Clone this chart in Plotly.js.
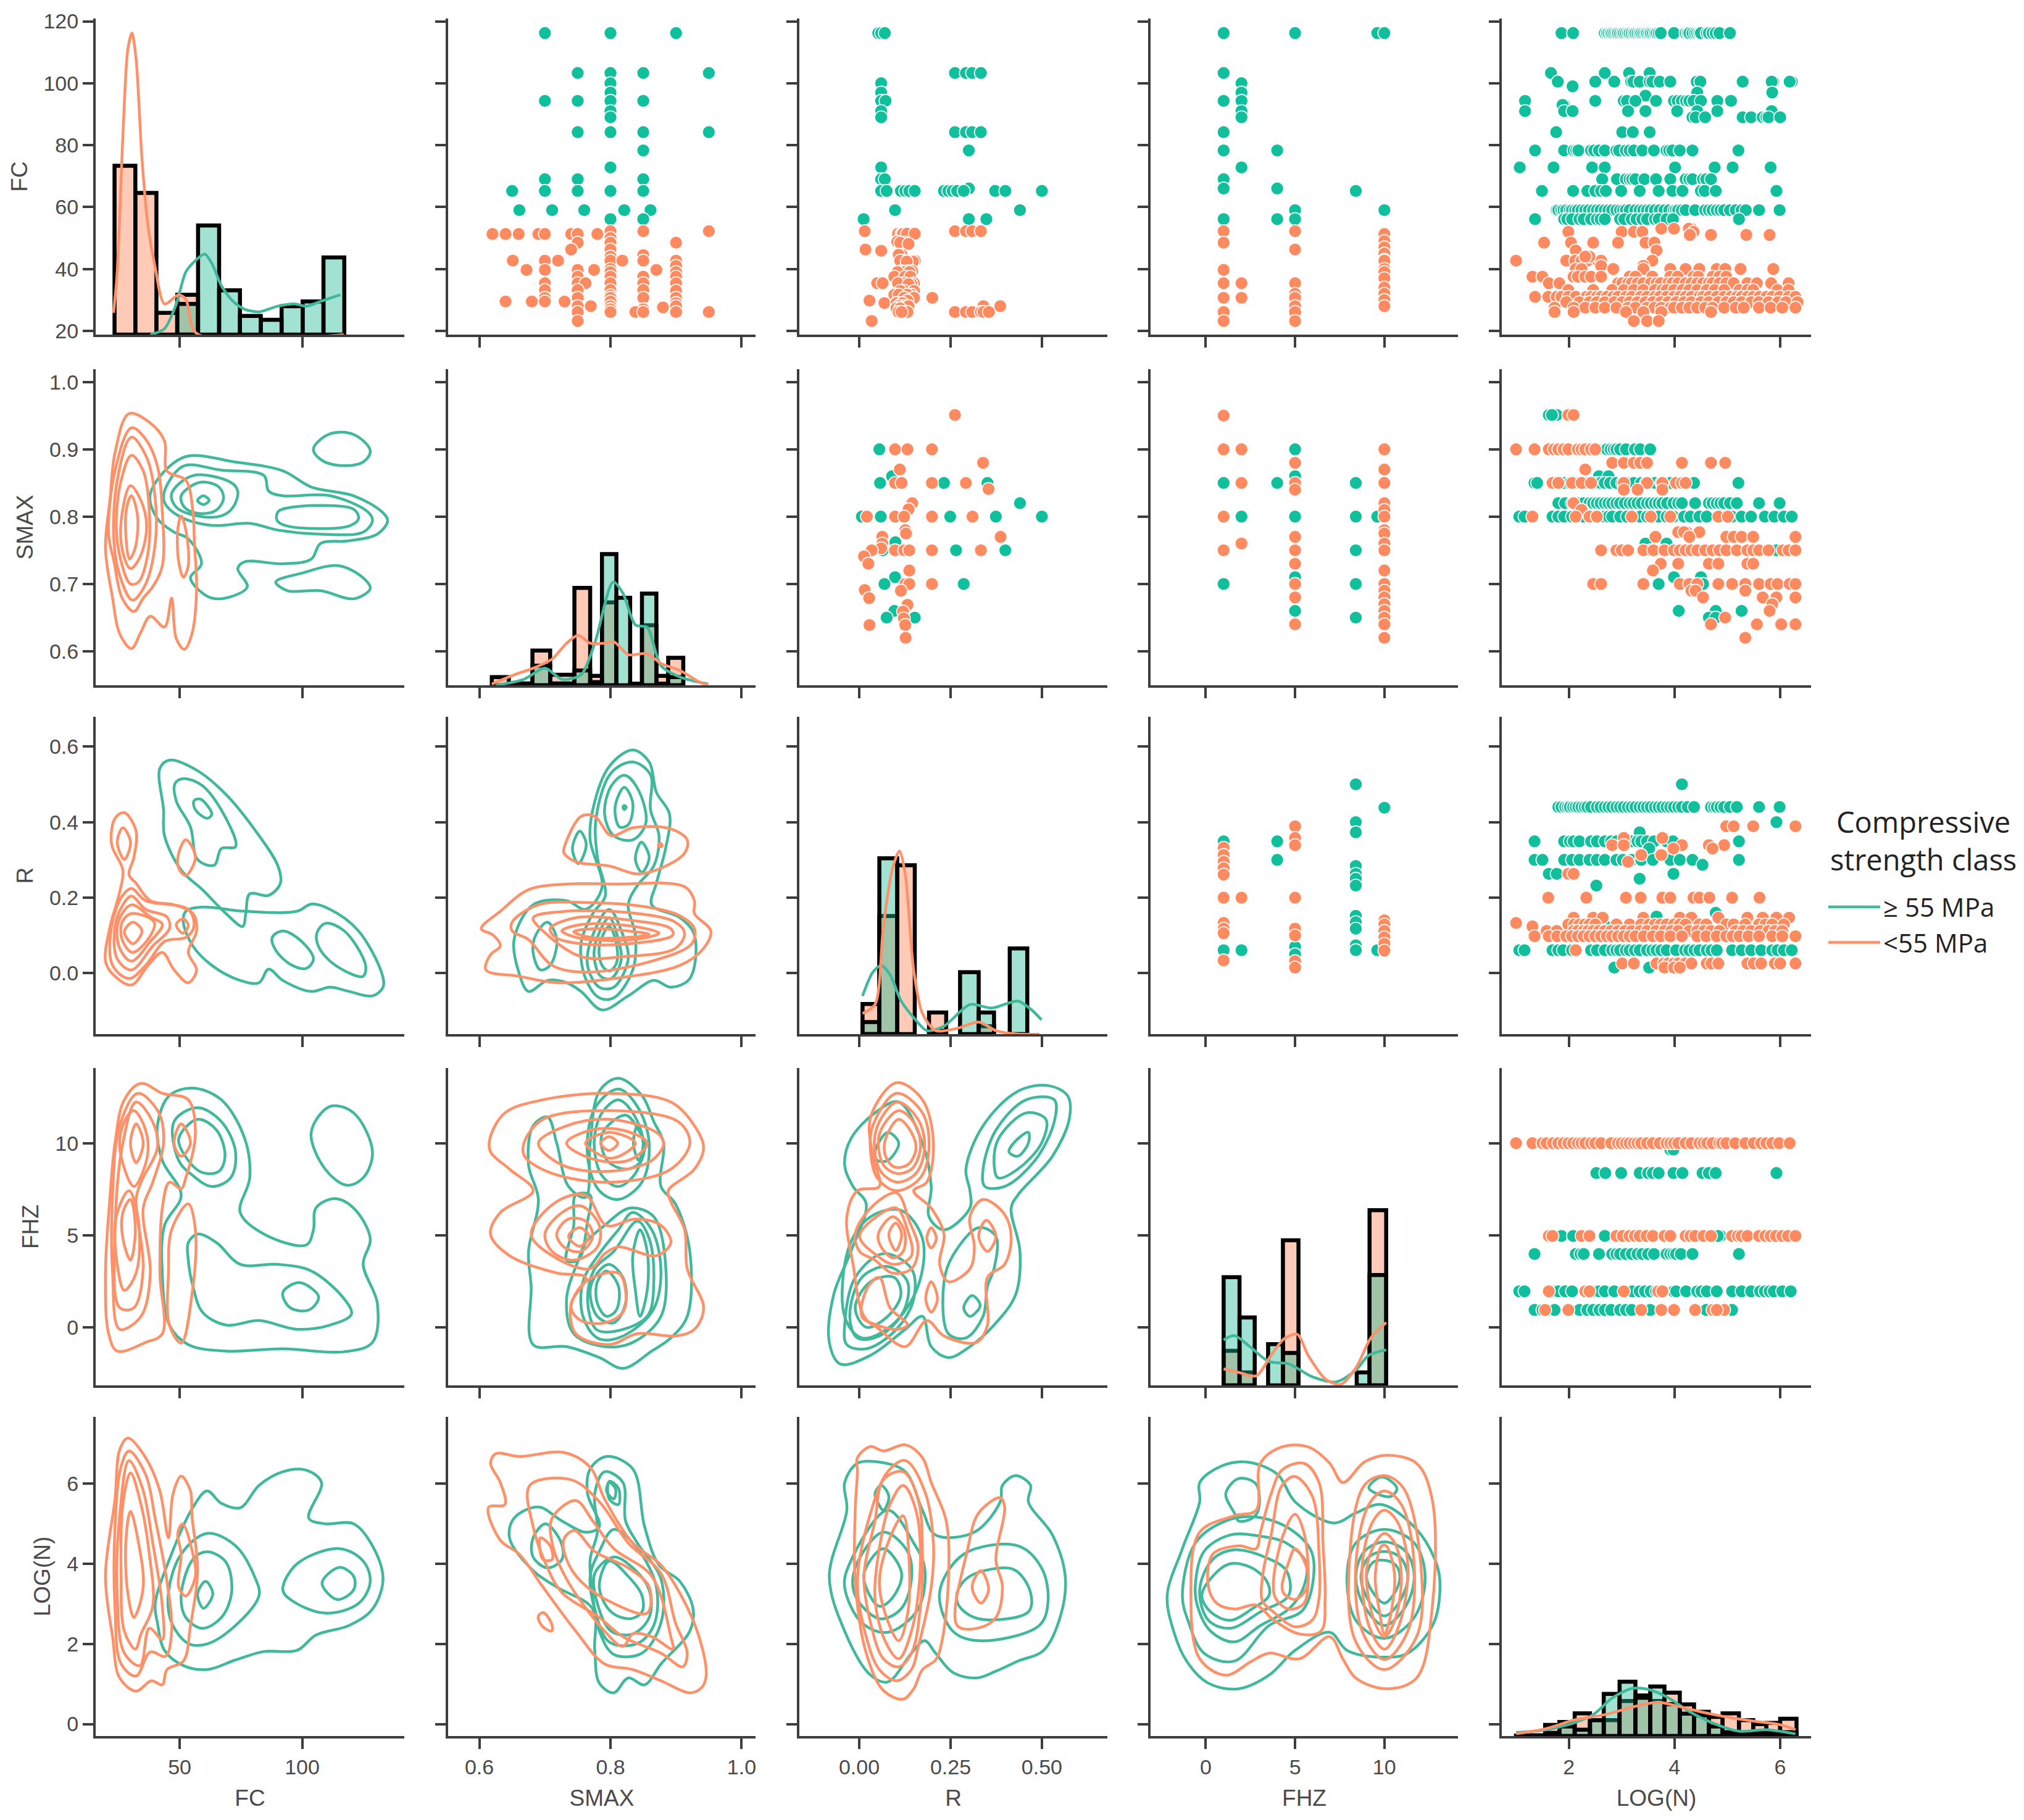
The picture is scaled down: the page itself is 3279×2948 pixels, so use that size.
<!DOCTYPE html>
<html>
<head>
<meta charset="utf-8">
<script src="https://cdn.plot.ly/plotly-3.0.1.min.js"></script>
<style>body{margin:0;background:#fff}</style>
</head>
<body>
<div id="pairplot" style="width:3279px;height:2948px"></div>
<script>
const features = ['FC', 'SMAX', 'R', 'FHZ', 'LOG(N)'];
const highName = '≥ 55 MPa';
const lowName = '&lt;55 MPa';

const xTickVals = [[50, 100], [0.6, 0.8, 1.0], [0, 0.25, 0.5], [0, 5, 10], [2, 4, 6]];
const xTickText = [['50', '100'], ['0.6', '0.8', '1.0'], ['0.00', '0.25', '0.50'], ['0', '5', '10'], ['2', '4', '6']];
const yTickVals = [[20, 40, 60, 80, 100, 120], [0.6, 0.7, 0.8, 0.9, 1.0], [0, 0.2, 0.4, 0.6], [0, 5, 10], [0, 2, 4, 6]];
const yTickText = [['20', '40', '60', '80', '100', '120'], ['0.6', '0.7', '0.8', '0.9', '1.0'], ['0.0', '0.2', '0.4', '0.6'], ['0', '5', '10'], ['0', '2', '4', '6']];
const xRanges = [[15.7, 141.7], [0.5524, 1.0212], [-0.164, 0.6793], [-3.09, 14.12], [0.73, 6.585]];
const yRanges = [[18.8, 120.9], [0.5495, 1.019], [-0.161, 0.6787], [-3.13, 14.07], [-0.30, 7.67]];

// diagonal histograms, heights as share of the panel height
const histFcEdges = [23.4, 31.9, 40.5, 49, 57.5, 66.1, 74.6, 83.1, 91.6, 100.2, 108.7, 117.2];
const histFcHigh = [0, 0, 0, .097, .345, .14, .059, .047, .09, .105, .244];
const histFcLow = [.534, .448, .069, .126, 0, 0, 0, 0, 0, 0, 0];
const histSmaxEdges = [.619, .645, .681, .708, .745, .769, .787, .809, .830, .848, .870, .888, .911];
const histSmaxHigh = [0, 0, .062, .006, .047, .010, .415, .277, .005, .290, .005, .026];
const histSmaxLow = [.026, .006, .110, .033, .308, .030, .262, 0, 0, .190, .030, .087];
const histREdges = [.009, .055, .104, .152, .191, .238, .276, .327, .369, .412, .46];
const histRHigh = [.038, .554, 0, 0, .01, 0, .195, .068, 0, .27];
const histRLow = [.095, .372, .532, 0, .068, 0, 0, .025, 0, 0];
const histFhzEdges = [1, 1.89, 2.74, 3.49, 4.32, 5.19, 8.45, 9.17, 10.1];
const histFhzHigh = [.341, .214, 0, .13, .102, 0, .041, .348];
const histFhzLow = [.109, .041, 0, 0, .457, 0, 0, .552];
const histLogEdges = [1, 1.28, 1.55, 1.82, 2.11, 2.4, 2.66, 2.96, 3.26, 3.54, 3.81, 4.1, 4.37, 4.65, 4.91, 5.22, 5.49, 5.74, 6, 6.31];
const histLogHigh = [.001, .002, .01, .03, .02, .05, .132, .17, .12, .155, .10, .07, .065, .03, .012, .01, .012, .012, .012];
const histLogLow = [.001, .002, .035, .044, .071, .05, .05, .11, .127, .11, .136, .099, .076, .06, .071, .05, .037, .041, .054];

// diagonal density curves: x, share of height, x, share of height ...
const densFcHigh = [38,0,43.8,.019,48.6,.097,52.5,.198,56.4,.234,60.2,.255,63.1,.226,67,.155,71.8,.105,76.6,.08,82.4,.072,90.1,.09,96.9,.097,101.7,.09,107.5,.105,115.6,.126];
const densFcLow = [23,.069,24.5,.198,26.8,.628,28.8,.901,30.5,.954,32.2,.871,34.6,.556,37.1,.341,40,.212,43.8,.097,49.6,.126,52.5,.112,56.9,.004,117,0];
const densSmaxHigh = [.625,0,.668,.019,.70,.054,.726,.019,.755,.033,.776,.133,.804,.327,.819,.291,.838,.191,.856,.183,.877,.062,.906,.026,.949,.004];
const densSmaxLow = [.619,.004,.653,.033,.682,.054,.711,.083,.733,.133,.751,.158,.769,.133,.791,.133,.805,.138,.827,.097,.856,.10,.877,.069,.906,.047,.935,.011,.949,0];
const densRHigh = [.009,.12,.037,.195,.060,.216,.084,.188,.114,.106,.149,.052,.185,.011,.232,.025,.303,.093,.363,.082,.434,.104,.469,.079,.499,.045];
const densRLow = [.009,.065,.043,.093,.066,.338,.090,.517,.110,.577,.126,.502,.149,.202,.173,.065,.209,.011,.268,.018,.327,.038,.374,.011,.434,0,.493,0];
const densFhzHigh = [1,.143,1.6,.157,2.45,.123,3.54,.075,4.64,.068,5.97,.027,7.3,.011,8.4,.048,9.13,.095,10.1,.112];
const densFhzLow = [1,.052,1.84,.041,2.82,.030,3.66,.095,4.39,.147,5.12,.161,5.73,.095,6.7,.020,7.55,.003,8.4,.055,9.25,.15,10.1,.198];
const densLogHigh = [1,.011,1.58,.02,2.09,.041,2.46,.067,2.82,.119,3.19,.149,3.48,.147,3.85,.123,4.29,.076,4.72,.041,5.23,.015,5.74,.02,6.29,.007];
const densLogLow = [1,.007,1.59,.024,2.09,.05,2.68,.067,3.26,.093,3.7,.106,4.07,.093,4.58,.073,5.01,.059,5.53,.046,5.96,.037,6.29,.02];

// density contours below the diagonal, every ring is x,y,x,y ...
const ringsFcSmaxHigh = [
 [38,.834,51.5,.888,72.8,.881,92.1,.868,103.7,.844,121,.831,132.6,.807,134.9,.794,130.7,.774,119.1,.764,107.5,.760,103.7,.737,92.1,.730,76.6,.733,73.7,.723,77.6,.696,70.8,.681,63.1,.679,56.4,.696,54.4,.710,58.9,.730,53.5,.767,47.7,.777,40.9,.797],
 [43.8,.838,51.5,.875,67,.869,84.4,.861,86.3,.838,92.1,.831,111.4,.831,126.8,.807,128.7,.794,124.9,.777,107.5,.774,90.1,.780,78.6,.790,63.1,.787,49.6,.801,43.8,.821],
 [46.7,.834,55.4,.861,70.8,.851,73.7,.838,71.8,.814,67,.801,57.3,.801,48.6,.814],
 [50.6,.831,58.3,.851,66,.844,67.9,.827,64.7,.809,57.3,.805,51.9,.814],
 [57.3,.824,59.7,.831,62,.824,59.7,.818],
 [90.1,.807,95.9,.814,121,.811,123,.797,119.1,.786,94,.786,89.8,.794],
 [104.6,.901,111.4,.923,121,.922,127.8,.898,124.9,.881,115.2,.876,107.5,.885],
 [89.2,.703,99.8,.716,115.2,.727,125.8,.706,127.8,.693,121,.678,107.5,.690,94,.690]];
const ringsFcSmaxLow = [
 [29.3,.953,38,.939,43.8,.912,44.8,.868,52.5,.854,55.4,.807,56,.760,56.9,.693,55,.626,51.9,.603,48.6,.619,46.7,.679,43.8,.636,38,.652,34.2,.629,30.3,.604,25.5,.626,22.6,.679,19.7,.753,21.6,.827,23.6,.895],
 [30.3,.932,36.1,.915,40.9,.875,42.9,.807,42.9,.727,39,.696,35.1,.679,31.3,.659,26.5,.679,23.2,.733,21,.774,23.6,.868],
 [30.3,.918,36.5,.888,40,.827,40,.760,36.1,.700,30.7,.676,26.1,.706,23.2,.760,24.5,.854],
 [30.3,.891,35.1,.868,37.6,.807,37.1,.747,33.2,.703,29.9,.700,26.1,.733,24.1,.787,26.1,.854],
 [29.9,.846,33.8,.827,36.5,.787,33.8,.740,29.9,.723,26.8,.747,26.1,.794],
 [30.3,.831,32.8,.801,31.8,.753,29.5,.737,28,.774,28.4,.814],
 [50.6,.801,52.5,.780,53.5,.727,51.5,.710,49.6,.733,49.2,.780]];
const ringsFcRHigh = [
 [41.9,.542,45.8,.564,57.3,.536,68.9,.473,80.5,.381,90.1,.284,91.1,.238,86.3,.206,78.6,.210,77,.158,75.7,.124,68.9,.158,59.3,.221,50.6,.273,43.8,.364,43.4,.433],
 [52.5,.164,59.3,.175,76.6,.164,97.9,.164,103.7,.183,111.4,.169,123,.112,132.6,-.002,133,-.037,128.7,-.06,119.1,-.048,111.4,-.037,103.7,-.048,92.1,-.019,86.3,.011,82.4,-.025,74.7,-.019,63.1,.021,55.4,.072,51.5,.135],
 [48.1,.502,51.5,.515,59.3,.496,68.9,.410,72.8,.335,67,.330,64.1,.286,57.3,.301,54.4,.387,48.6,.456],
 [55.8,.456,58.4,.461,63.1,.421,61.2,.410,56.4,.433],
 [87.8,.095,92.1,.112,99.8,.084,104.6,.038,101.7,.013,95.9,.021,89.2,.061],
 [106,.106,109.5,.132,117.2,.112,125.9,.021,124.9,-.008,120.1,-.002,111.4,.032,106.6,.072]];
const ringsFcRLow = [
 [27.4,.425,32.2,.376,31.3,.307,29.3,.261,32.2,.238,38,.192,47.7,.181,55.4,.158,56.9,.112,53.5,.055,56.9,.009,53.5,-.025,47.7,.009,42.9,.055,37.1,.021,30.3,-.031,22.6,-.002,19.7,.032,21.6,.124,25.5,.215,26.8,.273,22.2,.341,23.6,.410],
 [26.8,.385,29.9,.347,27.4,.301,24.5,.347],
 [30.3,.224,36.1,.192,53.5,.169,55.8,.124,52.5,.095,43.8,.084,36.1,.021,29.3,-.014,22.6,.021,22.2,.124,26.5,.204],
 [30.3,.204,36.1,.169,44.8,.149,45.8,.118,39,.072,30.3,.009,24.5,.038,23.6,.124,26.8,.181],
 [30.3,.181,38,.149,42.9,.129,38,.084,30.3,.032,25.5,.066,24.9,.135],
 [30.3,.158,39.6,.135,37.6,.095,30.7,.055,26.5,.089,26.5,.135],
 [30.9,.135,34.6,.112,30.9,.078,27.4,.110],
 [48.6,.129,51.5,.144,53.5,.126,51.2,.106],
 [49.6,.318,52.5,.353,56.4,.307,52.5,.259,49.6,.278]];
const ringsSmaxRHigh = [
 [.834,.591,.859,.559,.870,.479,.890,.421,.884,.330,.870,.238,.863,.181,.906,.147,.928,.101,.921,-.014,.892,-.037,.866,-.019,.827,-.060,.787,-.097,.755,-.048,.733,-.025,.704,-.019,.675,-.048,.661,-.002,.653,.089,.682,.181,.733,.192,.762,.169,.787,.227,.769,.353,.773,.433,.798,.547],
 [.834,.559,.861,.525,.861,.433,.874,.364,.866,.284,.841,.232,.827,.181,.838,.101,.834,.009,.805,-.065,.783,-.065,.762,-.014,.755,.078,.773,.158,.792,.204,.780,.307,.778,.410,.801,.530],
 [.821,.524,.841,.490,.854,.398,.834,.353,.805,.364,.791,.421,.801,.495],
 [.821,.492,.834,.450,.827,.393,.814,.387,.807,.439],
 [.819,.439,.821,.444,.824,.439,.821,.433],
 [.847,.347,.859,.307,.848,.267,.838,.301],
 [.753,.376,.763,.341,.751,.290,.742,.330],
 [.798,.169,.819,.101,.827,.037,.805,-.037,.783,-.037,.765,.021,.773,.101],
 [.798,.147,.812,.089,.816,.032,.801,-.014,.785,-.008,.775,.044,.780,.095],
 [.798,.124,.809,.078,.809,.026,.798,.006,.787,.021,.783,.072],
 [.704,.135,.718,.089,.708,.021,.693,.009,.682,.055,.686,.101]];
const ringsSmaxRLow = [
 [.729,.330,.755,.415,.776,.415,.801,.364,.834,.385,.892,.382,.917,.353,.913,.318,.877,.278,.841,.263,.798,.284,.747,.295,.729,.318],
 [.873,.339,.876,.344,.879,.339,.876,.334],
 [.603,.118,.632,.164,.675,.221,.733,.236,.805,.236,.913,.229,.928,.192,.928,.158,.953,.112,.942,.066,.906,.021,.805,-.014,.718,-.025,.661,-.008,.610,.009,.617,.049,.632,.072,.621,.101],
 [.650,.135,.690,.181,.769,.187,.856,.175,.906,.152,.928,.118,.924,.078,.863,.032,.762,.003,.711,.021,.675,.089,.650,.112],
 [.682,.147,.733,.164,.841,.158,.899,.135,.913,.106,.899,.066,.819,.044,.755,.044,.697,.112],
 [.708,.118,.747,.147,.827,.141,.892,.118,.895,.101,.827,.078,.755,.078,.716,.095],
 [.726,.112,.755,.129,.827,.126,.874,.106,.834,.089,.755,.092],
 [.744,.110,.776,.118,.827,.112,.859,.103,.827,.095,.769,.095]];
const ringsFcFhzHigh = [
 [40.9,10.94,45.8,12.58,55.4,12.98,67,12.35,76.6,10.23,78.6,8.12,74.7,6.24,84.4,5.07,101.7,4.48,104.6,5.30,105.6,6.48,113.3,6.99,121,6.48,127.8,4.83,124.9,3.43,130.7,1.31,128.7,-.80,117.2,-1.31,92.1,-1.15,68.9,-1.27,53.5,-.92,45.8,.14,42.9,2.96,43.8,5.54,50.6,7.18,42.9,9.06],
 [47.7,11.17,57.3,11.92,67,11.17,72.8,9.53,70.8,8.12,63.1,7.65,55.4,8.24,49.6,9.06],
 [49.6,10.23,57.3,11.29,65.1,10.70,68.5,9.29,66,8.47,59.3,8.40,53.5,9.06],
 [103.7,10.58,111.4,11.99,121,11.64,128.7,9.53,124.9,8.12,118.1,7.72,109.4,8.59],
 [53.5,4.60,57.3,5.07,65.1,4.60,74.7,3.43,90.1,3.43,103.7,3.07,117.2,1.55,120.1,.73,111.4,.14,97.9,-.09,82.4,.38,68.9,.14,59.3,.84,55.4,2.25,53.5,3.66],
 [92.1,1.9,98.9,2.44,106.7,1.67,102.8,.96,95.1,1.08]];
const ringsFcFhzLow = [
 [34.2,13.24,42.9,12.7,53.5,12.35,56.4,10.47,52.5,8.12,50.6,7.53,45.8,7.88,42.9,6.48,41.9,2.96,42.9,-.33,36.1,-.80,24.5,-1.27,21,-.33,19.7,2.96,21.6,7.18,23.6,10,27.4,12.35],
 [32.9,12.7,41.5,11.64,43.4,10,39,7.88,35.1,6.48,38,2.96,34.2,.61,25.5,-.09,22.6,2.96,22.6,7.18,25.5,10.94],
 [32.2,12.23,38.9,11.17,40.9,9.76,34.2,7.88,32.2,6.95,35.1,3.19,31.3,1.08,25.5,1.08,23.6,5.3,26.8,10],
 [31.3,11.76,36.1,10.7,36.8,9.29,31.3,7.65,25.5,9.76,27.4,11.17],
 [32.2,11.05,35.1,10,32.2,8.94,29.9,10],
 [29.3,7.42,33.2,5.77,32.2,2.96,27.4,2.02,24.5,3.43,24.1,6.01],
 [29.9,6.95,31.9,5.3,29.9,3.66,26.8,4.83,26.8,6.24],
 [47.7,10,50.6,11.05,54.4,10,50.6,9.29],
 [46.7,5.3,53.5,6.71,56.4,5.3,55,1.78,50.6,-.84,45.8,.14,45.4,2.96]];
const ringsSmaxFhzHigh = [
 [.812,13.52,.848,12.58,.866,11.17,.881,10,.877,7.65,.899,6.71,.921,4.13,.917,.61,.892,-.56,.863,-1.27,.819,-2.21,.783,-1.62,.733,-1.03,.682,-.92,.679,2.25,.675,4.13,.690,6.95,.675,8.82,.682,10.94,.704,11.41,.718,10,.736,7.65,.762,7.06,.769,10,.783,12.81],
 [.812,12.93,.841,11.99,.859,10,.848,7.89,.812,6.95,.783,7.42,.765,9.29,.776,11.88],
 [.812,12.35,.834,11.64,.850,10,.838,8.36,.812,7.65,.787,8.24,.775,10,.787,11.64],
 [.823,11.52,.845,10.58,.852,10,.845,8.94,.823,8.59,.795,9.06,.787,10.47],
 [.841,10.94,.850,10,.843,9.06,.835,10],
 [.830,6.48,.866,6.01,.884,3.43,.877,.61,.834,-.8,.791,-1.03,.744,-.33,.733,1.55,.751,3.66,.762,4.6,.791,5.54],
 [.834,6.24,.863,5.3,.877,2.96,.863,.84,.812,-.56,.780,-.56,.758,.61,.758,2.49,.783,4.01,.812,5.3],
 [.841,5.77,.859,4.83,.866,2.49,.856,.61,.805,-.21,.778,-.09,.765,1.55,.776,3.19,.805,4.13],
 [.845,5.3,.856,4.13,.856,2.02,.845,.61,.838,2.02,.834,3.9],
 [.798,3.43,.819,2.72,.823,1.31,.805,.26,.780,.61,.769,2.02,.780,2.96],
 [.794,3.07,.812,2.25,.809,.96,.794,.61,.780,1.31,.780,2.49],
 [.747,7.18,.769,7.18,.765,5.77,.751,3.66,.733,3.66,.744,5.54]];
const ringsSmaxFhzLow = [
 [.616,10.23,.639,11.64,.697,12.35,.798,12.7,.892,12.23,.928,10.94,.942,9.76,.928,8.59,.888,7.42,.892,6.83,.913,5.3,.917,3.19,.942,1.08,.928,-.09,.899,-.45,.841,-.33,.798,-.92,.747,-.33,.740,1.31,.762,2.72,.718,2.96,.646,3.9,.617,5.07,.632,6.24,.682,7.42,.646,8.59,.617,9.53],
 [.668,10,.697,11.29,.798,11.76,.903,11.17,.921,10,.892,8.59,.805,7.89,.711,8.36,.669,9.29],
 [.690,10,.733,10.94,.798,11.29,.870,10.58,.881,10,.863,9.06,.798,8.47,.726,8.82],
 [.733,10,.769,10.7,.819,10.7,.856,10,.827,9.06,.769,9.18],
 [.762,10,.798,10.58,.838,10,.801,9.18],
 [.785,10,.798,10.35,.811,10,.798,9.6],
 [.679,5.07,.718,6.83,.762,7.18,.794,5.54,.838,5.89,.877,5.54,.892,4.6,.870,3.9,.812,4.37,.791,4,.769,3.19,.711,3.9],
 [.700,5.07,.726,6.24,.755,6.6,.783,5.54,.780,4.37,.744,3.66,.711,4.13],
 [.718,5.07,.736,5.89,.762,5.77,.773,4.95,.755,4.13,.729,4.37],
 [.736,4.95,.753,5.42,.767,4.95,.753,4.41],
 [.740,1.08,.762,2.49,.812,2.96,.823,2.02,.819,.84,.791,.26,.755,.38]];
const ringsRFhzHigh = [
 [.292,8.59,.339,10.94,.434,12.81,.517,13.12,.570,12.58,.576,11.41,.529,9.29,.434,7.18,.416,6.48,.440,4.13,.428,1.78,.369,.14,.303,-1.03,.244,-1.62,.197,-1.03,.173,.61,.126,-.09,.031,-1.5,-.052,-1.97,-.082,-.8,-.070,1.78,-.023,4.13,.019,6.71,-.017,7.65,-.040,8.82,-.023,10.23,.043,11.64,.108,12.23,.173,10,.197,7.65,.191,6.01,.232,5.30,.303,6.48,.303,7.42],
 [.339,8.59,.374,10.7,.457,12.35,.534,12.35,.534,11.17,.481,9.06,.398,7.65,.344,7.65],
 [.369,8.94,.381,10.23,.457,11.64,.511,11.29,.499,10,.434,8.59,.380,8.12],
 [.410,9.53,.434,10.23,.463,10.58,.463,10,.434,9.29],
 [-.040,.14,-.011,2.72,.066,4.01,.143,3.19,.149,1.55,.102,-.09,.019,-1.15,-.034,-.92],
 [-.026,.61,.007,2.72,.078,3.31,.132,2.49,.120,.84,.055,-.45,-.005,-.56],
 [-.011,1.08,.031,2.49,.096,2.72,.114,1.78,.078,.61,.019,.02],
 [-.028,4.37,.031,6.01,.114,6.36,.173,4.83,.161,2.25,.090,.14,.007,-.56,-.040,.61],
 [.232,2.49,.256,3.9,.327,5.42,.374,4.95,.369,3.19,.351,2.25,.339,.61,.292,-.56,.244,-.33],
 [.286,1.08,.309,1.74,.331,1.2,.303,.61],
 [.043,9.53,.078,10.58,.108,10,.078,9.06,.050,9.06]];
const ringsRFhzLow = [
 [.031,11.41,.102,13.28,.173,12.35,.203,10,.185,7.89,.149,7.42,.197,6.48,.232,5.07,.220,3.43,.244,2.49,.303,3.19,.315,4.37,.303,6.01,.339,6.95,.398,6.13,.416,4.83,.398,3.43,.351,2.72,.351,.14,.321,-.8,.232,-.45,.185,.38,.126,-1.03,.055,-.09,.013,.61,-.017,3.43,-.034,6.01,-.005,7.42,.055,7.65,.037,9.29],
 [.037,10.94,.102,12.7,.173,11.64,.191,9.76,.167,8.12,.102,7.42,.049,8.12,.031,9.53],
 [.046,10.7,.104,12.23,.161,11.29,.179,9.76,.155,8.36,.102,7.89,.055,8.59],
 [.055,10.47,.108,11.76,.155,10.94,.167,9.64,.143,8.59,.102,8.36,.066,8.82],
 [.072,10.23,.108,11.29,.143,10.58,.155,9.64,.132,8.82,.096,8.71,.072,9.29],
 [-.011,5.07,.031,6.48,.102,7.3,.137,5.77,.161,4.37,.143,3.19,.090,2.96,.043,3.66,.001,4.13],
 [.001,4.95,.055,6.13,.102,6.48,.132,5.3,.143,3.9,.096,3.43,.049,3.9],
 [.052,5.07,.092,6.01,.123,5.3,.120,4.13,.092,3.78,.060,4.37],
 [.081,5.07,.100,5.66,.116,5.07,.100,4.18],
 [.007,.61,.025,2.25,.055,2.72,.084,1.08,.132,.14,.102,-.09,.049,.14],
 [.185,4.83,.197,5.42,.211,4.83,.197,4.32],
 [.182,1.55,.197,2.49,.214,1.55,.197,.84],
 [.327,4.95,.348,5.82,.374,4.95,.351,4.13]];
const ringsFcLogHigh = [
 [40,3.01,45.8,4.11,55.4,5.41,61.2,5.82,67,5.51,74.7,5.4,82.4,5.96,92.1,6.3,101.7,6.34,107.9,6.03,102.7,5.14,109.4,5,121,5,128.7,4.45,133,3.62,128.7,2.87,119.1,2.46,105.6,2.22,97.9,1.84,84.4,1.81,72.8,1.6,61.2,1.36,51.5,1.46,43.8,1.84,40.9,2.53],
 [45.4,3.28,50.6,4.24,61.2,4.76,72.8,4.45,80.5,3.69,82.4,3.21,72.8,2.46,61.2,2,53.5,2.01,46.7,2.53],
 [50.6,3.21,55.4,4.11,61.2,4.3,68.9,4.04,71.2,3.28,67,2.66,59.3,2.39,52.5,2.66],
 [57.3,3.25,60.6,3.56,63.5,3.25,59.7,2.89],
 [92.1,3.35,97.9,4,115.2,4.38,124.9,4.07,127.8,3.56,123,3.01,109.4,2.77,95.9,3.08],
 [108.1,3.52,115.2,3.91,121,3.69,121,3.35,114.3,3.11]];
const ringsFcLogLow = [
 [28.8,7.14,36.1,6.65,41.9,5.82,45.4,4.65,47.3,5.75,50.6,6.19,54.4,5.82,55,5.2,57.3,3.83,54.4,2.46,51.5,1.57,44.8,1.36,42.9,.98,38.4,1.08,32.2,.82,25.5,1.15,22.6,2.18,19.7,3.69,23.6,5.62,25.5,6.85],
 [29.3,6.82,36.1,6.23,40,5.13,44.8,3.56,46.7,2.32,44.2,1.69,38,1.8,32.2,1.2,26.1,1.5,23.6,2.87,23.6,4.93,26.1,6.44],
 [29.3,6.58,34.8,5.89,39,4.52,42.9,2.94,42.9,2.11,37.6,2.39,33.8,1.46,27.4,1.77,24.5,3.21,25.5,5.2],
 [29.9,6.27,34.2,5.48,37.6,4.24,39,2.94,34.2,2.25,31.9,1.87,27.4,2.32,26.1,3.69,26.8,5.48],
 [29.9,5.31,33.2,4.52,35.1,3.42,31.3,2.66,28.8,3.28,28,4.52],
 [51.2,5,55.4,4.24,56.4,3.69,52.5,3.2,49.6,3.42,50.6,4.24,49.2,4.76]];
const ringsSmaxLogHigh = [
 [.769,6.37,.794,6.68,.834,6.37,.852,4.93,.874,3.97,.906,3.56,.926,2.87,.921,2.32,.877,1.5,.852,.98,.827,1.15,.805,.78,.783,1.02,.776,1.84,.773,2.87,.718,3.42,.682,3.83,.646,4.65,.653,5.14,.690,5.42,.726,5.07,.762,4.79,.783,4.93,.765,5.75],
 [.791,6.3,.819,6.03,.823,5.07,.841,4.52,.877,3.62,.877,2.53,.848,1.77,.805,1.74,.783,2.32,.773,3.21,.769,4.11,.780,4.79,.776,5.75],
 [.798,6.06,.812,5.89,.812,5.48,.798,5.62],
 [.798,6.03,.808,5.86,.805,5.62,.794,5.82],
 [.805,4.86,.841,4.38,.87,3.42,.866,2.46,.841,2.01,.798,2.05,.776,2.87,.769,3.69,.783,4.31],
 [.805,4.17,.834,3.9,.859,3.35,.859,2.66,.834,2.25,.801,2.32,.780,3.01,.776,3.76],
 [.798,4.07,.827,3.69,.848,3.21,.848,2.8,.830,2.63,.801,2.8,.783,3.42],
 [.682,4.65,.701,5,.725,4.52,.726,4.11,.704,3.9,.682,4.17]];
const ringsSmaxLogLow = [
 [.617,6.51,.625,6.75,.661,6.68,.729,6.78,.769,6.41,.791,5.62,.834,4.52,.877,3.97,.91,3.14,.935,2.18,.946,1.22,.939,.91,.921,.78,.877,1.08,.834,1.36,.791,1.5,.747,2.32,.697,3.42,.661,4.24,.632,4.59,.614,5.41,.639,5.48,.632,6.03],
 [.677,5.96,.74,6.1,.783,5.55,.827,4.52,.877,3.76,.899,2.53,.917,1.77,.910,1.43,.877,1.77,.819,2.18,.783,2.66,.726,3.28,.704,3.9,.682,4.93],
 [.711,5.14,.747,5.58,.773,5.07,.805,4.38,.863,3.69,.892,2.18,.895,1.87,.863,2.18,.834,2.25,.819,1.94,.791,2.32,.733,3.62,.711,4.52],
 [.729,4.62,.745,4.83,.776,4.31,.827,3.9,.859,3.42,.856,2.77,.805,3.01,.755,3.56,.733,4.11],
 [.690,2.7,.698,2.78,.711,2.46,.71,2.32,.695,2.46],
 [.693,4.65,.708,4.45,.711,4.11,.697,4.11]];
const ringsRLogHigh = [
 [-.04,6.03,-.005,6.51,.055,6.54,.126,6.3,.173,5.34,.209,4.72,.315,4.79,.386,5.55,.392,5.96,.428,6.2,.469,5.96,.463,5.55,.529,4.72,.564,3.69,.552,2.73,.505,1.84,.434,1.57,.374,1.32,.321,1.15,.256,1.29,.209,1.77,.179,2.08,.143,1.77,.078,1.05,.031,1.22,-.04,2.32,-.082,3.69,-.034,5.34],
 [-.028,3.97,.078,5.34,.149,4.52,.179,3.9,.161,2.87,.078,2.29,.007,2.53,-.04,3.42],
 [-.011,3.9,.066,4.79,.132,4.31,.143,3.62,.114,2.87,.055,2.63,-.011,3.21],
 [.013,3.76,.066,4.38,.116,3.76,.090,3.14,.055,2.94,.025,3.28],
 [.043,5.75,.060,5.96,.081,5.68,.066,5.34,.052,5.51],
 [.22,3.28,.286,4.24,.434,4.45,.499,3.9,.517,3.08,.493,2.46,.327,2.08,.256,2.32],
 [.268,3.28,.303,3.69,.422,3.86,.469,3.28,.463,2.8,.327,2.63,.274,2.94]];
const ringsRLogLow = [
 [-.005,6.65,.031,6.93,.066,6.82,.126,6.97,.173,6.65,.197,6.03,.238,5.07,.244,3.56,.226,2.05,.209,1.6,.173,1.36,.149,.88,.12,.62,.066,.84,.019,1.77,-.011,3.56,-.011,5.34,-.005,6.3],
 [.078,6.3,.126,6.58,.179,5.82,.203,4.52,.197,3.42,.161,1.91,.143,1.36,.102,1.08,.055,1.36,.019,2.18,-.005,3.56,.031,5.27],
 [.066,6.1,.12,6.3,.161,5.62,.173,4.24,.167,2.87,.143,1.77,.108,1.43,.066,1.63,.031,2.53,.013,3.69,.043,5.07],
 [.084,5.48,.12,5.96,.155,5.34,.167,3.9,.143,2.32,.108,1.63,.072,2.05,.043,3.14,.060,4.65],
 [.084,4.65,.12,5.2,.137,3.97,.132,2.73,.108,2.08,.072,2.73,.055,3.56],
 [.268,2.46,.297,4.38,.327,5.27,.386,5.65,.398,5.41,.374,4.11,.392,3.42,.374,2.66,.327,2.4],
 [.309,3.42,.333,3.83,.354,3.35,.333,3.02]];
const ringsFhzLogHigh = [
 [-2.16,3.21,-1.31,4.38,-.34,5.55,-.34,6.03,.87,6.44,2.33,6.54,4.03,6.23,5,5.55,7.18,5.02,8.4,5.27,9.85,5.48,11.8,4.86,12.77,4.17,13.1,3.62,12.77,2.53,11.31,1.77,9.85,1.67,7.91,1.84,6.94,2.29,5,1.84,3.54,1.22,1.84,.88,.15,1.02,-1.07,1.57,-1.8,2.32],
 [-1.31,3.21,-.58,4.52,1.12,5.07,2.82,5.17,4.76,4.86,5.97,4.24,5.48,2.87,3.54,2.46,1.6,1.57,-.1,1.77,-.95,2.53],
 [1.12,5.75,1.84,6.13,2.82,5.99,2.94,5.34,2.57,5.13,1.84,5.07,1.6,5.27],
 [-.58,3.49,-.1,4.31,1.36,4.72,3.06,4.69,4.51,4.52,5.6,4.04,5.48,3.42,4.64,2.87,3.06,2.46,1.6,2.05,.27,2.32,-.46,2.94],
 [-.34,3.35,.39,4.11,1.6,4.35,3.3,4.17,4.51,3.83,4.64,3.21,3.06,2.8,1.36,2.39,.15,2.59],
 [-.22,3.21,.39,3.69,1.36,4,2.57,3.9,3.42,3.56,3.54,3.21,2.57,2.87,1.36,2.59,.27,2.8],
 [7.91,3.69,8.4,4.52,10,4.86,11.67,4.52,12.28,3.69,11.67,2.66,10,2.14,8.4,2.59],
 [8.4,3.69,8.88,4.31,10,4.55,11.19,4.31,11.67,3.69,11.19,2.94,10,2.46,8.88,2.94],
 [8.69,3.69,9.13,4.17,10,4.31,10.87,4.17,11.31,3.69,10.87,3.07,10,2.7,9.13,3.07],
 [9,3.69,9.37,4.04,10,4.09,10.63,3.97,10.87,3.69,10.58,3.28,10,3.02,9.37,3.28],
 [9.13,5.89,9.85,6.17,10.7,5.89,10.34,5.68]];
const ringsFhzLogLow = [
 [-.83,3.21,-.34,4.79,1.6,5.2,2.82,5.34,3.06,6.51,4.27,6.92,5.73,6.92,6.94,6.51,7.67,6.03,8.88,6.54,10.1,6.71,11.8,6.51,12.67,5.62,12.67,2.87,11.8,1.15,10.1,.88,8.4,1.15,7.67,1.63,6.94,2.18,5.24,1.63,3.54,1.77,2.57,1.57,1.12,1.22,-.34,1.63],
 [.15,3.42,.39,4.24,1.84,4.45,2.82,4.38,3.06,4.79,3.66,5.75,4.27,6.34,5.49,6.51,6.34,6.03,6.56,4.52,6.68,3.14,6.45,2.32,5.24,2.25,3.79,2.6,2.82,2.97,1.6,2.87,.63,3.01],
 [3.18,3.69,3.66,4.72,4.27,5.96,5,6.18,5.97,5.68,6.34,4.24,6.34,3.14,5.97,2.6,5,2.43,3.79,2.8,3.18,3.07],
 [3.79,3.56,4.39,4.79,5,5.24,5.49,4.79,5.73,3.69,5.49,3.01,4.64,2.87,3.91,3.14],
 [4.27,3.42,4.64,4.04,5,4.38,5.6,3.97,5.68,3.42,5,3.11,4.39,3.25],
 [8.03,3.97,8.88,5.96,10,6.2,11.07,5.89,12.04,3.97,11.8,2.18,10,1.36,8.4,2.05],
 [8.4,3.97,9.13,5.48,10,5.82,10.95,5.48,11.67,3.97,11.31,2.32,10,1.61,8.76,2.32],
 [8.76,3.97,9.37,5.07,10,5.34,10.7,5.07,11.31,3.97,10.82,2.46,10,1.87,9.13,2.46],
 [9,3.83,9.49,4.52,10,4.76,10.58,4.52,10.95,3.69,10.58,2.59,10,2.18,9.42,2.59],
 [9.49,3.69,9.85,4.45,10.1,4.45,10.46,4.04,10.58,3.56,10.24,2.5,10,2.25,9.73,2.8]];

// scatter points above the diagonal, grouped as [y, [x, x, ...]]
const ptsSmaxFcHigh = [[116.2,[.70,.80,.90]],[103.3,[.75,.80,.85,.95]],[100,[.80]],[97,[.80]],[94.3,[.70,.75,.80,.85]],[91,[.80]],[89,[.80]],[84.2,[.75,.80,.85,.95]],[78.3,[.85]],[72.8,[.80]],[69,[.70,.75,.85]],[65.2,[.65,.70,.75,.80,.85]],[59,[.661,.711,.76,.821,.861]],[56.1,[.80,.85]]];
const ptsSmaxFcLow = [[52.2,[.80,.85,.95]],[51.3,[.62,.64,.66,.69,.70,.74,.75,.78]],[50,[.80]],[48.5,[.75,.80,.90]],[46.3,[.74,.80]],[44.5,[.85]],[44,[.80]],[42.7,[.651,.70,.72,.80,.818,.85,.90]],[41,[.90]],[40,[.80]],[39.7,[.672,.70,.75,.775,.87]],[39,[.80,.90]],[37.5,[.75,.80,.85,.90]],[35.4,[.70,.75,.762,.80,.85,.90]],[33.2,[.70,.75,.80,.85]],[33,[.90]],[31.5,[.80]],[30.7,[.70,.75,.80,.85,.90]],[29.5,[.64,.68,.70,.73,.80]],[29,[.90]],[28,[.75,.77,.80,.90]],[27.6,[.88]],[27,[.80,.85]],[26.1,[.75,.80,.838,.85,.90,.95]],[23.2,[.75]]];
const ptsRFcHigh = [[116.2,[.052,.06,.07]],[103.3,[.262,.292,.309,.333]],[100,[.06]],[97,[.06]],[94.3,[.06,.072]],[91,[.06]],[89,[.06]],[84.2,[.262,.292,.309,.333]],[78.3,[.30]],[72.8,[.06]],[69,[.06,.07]],[66,[.30]],[65.2,[.06,.075,.114,.126,.137,.152,.232,.244,.256,.268,.286,.372,.40,.50]],[59,[.098,.44]],[56.1,[.012,.30,.348]]];
const ptsRFcLow = [[52.2,[.262,.292,.309,.333,.015]],[51.4,[.106,.116,.122,.143,.12,.131,.152]],[48.8,[.104]],[48.5,[.123,.112]],[48.1,[.135]],[46.3,[.017]],[45.9,[.06]],[44.6,[.116,.108]],[42.7,[.12,.112,.152]],[42.4,[.147,.13]],[39.3,[.132,.114,.145]],[39,[.12,.138,.105]],[37.5,[.096,.125,.14]],[35.4,[.123,.049,.064,.106,.15]],[35.1,[.143,.135]],[32.9,[.123,.112,.15]],[31.7,[.096,.143,.132,.108]],[30.7,[.2,.123,.15]],[29.8,[.028,.132]],[29,[.069,.102,.118]],[28,[.12,.340,.386,.108,.135]],[27.3,[.102,.112]],[26.1,[.123,.132,.262,.292,.309,.333,.34,.355,.108,.116]],[23.2,[.034]]];
const ptsFhzFcHigh = [[116.2,[1,5,9.6,10]],[103.3,[1]],[100,[2]],[97,[2]],[94.3,[1,2]],[91,[2]],[89,[2]],[84.2,[1]],[78.3,[1,4]],[72.8,[2]],[69,[1]],[66,[1,4]],[65.2,[8.4]],[59,[5,10]],[56.1,[1,4,5]]];
const ptsFhzFcLow = [[52.2,[1,5]],[51.3,[10]],[49,[10]],[48.5,[1]],[47,[10]],[46.3,[5]],[45,[10]],[43,[10]],[42.7,[10]],[40,[10]],[39.7,[1]],[39,[10]],[37,[10]],[35.4,[1,2,5]],[34,[10]],[32,[5,10]],[30.7,[1,2,5]],[30,[10]],[28,[5,10]],[26.1,[1,5]],[23.2,[1,5]]];
const ptsLogFcHigh = [
 [116.2,[1.86,2.08,2.68,2.72,2.75,2.79,2.82,2.86,2.90,2.93,2.97,3.01,3.04,3.08,3.12,3.15,3.19,3.23,3.26,3.30,3.34,3.37,3.41,3.45,3.48,3.52,3.55,3.59,3.63,3.66,3.70,3.74,3.99,4.21,4.25,4.28,4.34,4.39,4.43,4.47,4.50,4.61,4.65,4.72,4.78,4.85,5.05]],
 [103.3,[1.66,2.68,3.14,3.53]],
 [100.5,[1.79,2.50,2.86,3.18,3.22,3.34,3.53,3.58,3.72,3.92,4.42,4.49,5.29,5.87,5.84,6.22,6.18]],
 [99,[2.07]],[96,[3.45]],[97,[4.43,5.85]],
 [94.3,[1.17,2.50,3.04,3.10,3.26,3.65,3.99,4.06,4.14,4.22,4.28,4.36,4.50,4.81,5.07]],[93,[1.91,1.88]],
 [91,[1.17,1.91,2.07,3.12,3.45,4.05,4.43,4.81,5.84]],
 [89,[4.34,4.40,4.58,5.29,5.45,5.67,5.74,5.78,6.00]],
 [84.2,[1.76,3.01,3.21,3.53]],
 [78.3,[1.36,1.91,2.09,2.14,2.18,2.42,2.48,2.57,2.68,2.90,2.95,3.08,3.15,3.23,3.39,3.61,3.85,3.90,3.96,4.10,4.34,5.21]],
 [72.8,[1.07,1.71,2.44,2.68,4.01,4.76,5.10,5.82]],
 [69,[2.63,2.91,3.08,3.15,3.20,3.26,3.43,3.65,3.92,4.21,4.28,4.34,4.54,4.60,4.69]],
 [65.2,[1.49,2.08,2.35,2.50,2.61,2.70,2.99,3.34,3.70,3.96,4.15,4.50,4.57,4.78,5.93]],
 [59,[1.77,1.80,1.86,1.90,1.95,2.02,2.06,2.12,2.17,2.24,2.31,2.38,2.46,2.53,2.60,2.68,2.75,2.82,2.90,2.97,3.03,3.08,3.15,3.26,3.34,3.41,3.48,3.55,3.63,3.72,3.81,3.90,3.99,4.03,4.07,4.14,4.21,4.39,4.58,4.65,4.72,4.80,4.87,4.94,5.05,5.16,5.27,5.35,5.60,5.99]],
 [56.1,[1.36,1.91,1.97,2.06,2.20,2.28,2.42,2.53,2.60,2.68,2.97,3.05,3.19,3.28,3.39,3.48,3.63,3.70,3.85,3.97,5.22]]];
const ptsLogFcLow = [
 [53,[3.75,3.99,4.32,4.27]],[52,[1.99,3.0,3.23,3.39,4.36]],[51,[4.69,5.36,5.80,4.29]],
 [48.5,[1.53,2.04,2.46,2.93,3.45,3.62]],[46,[2.13,3.66]],[42.7,[1.00,1.95,2.12,2.24,2.35,2.55,2.61,3.58]],[44,[2.39,2.31]],[41,[2.61,3.41]],
 [40,[2.13,2.24,2.84,3.41,3.92,4.21,4.47,4.80,4.96,5.25,5.87]],
 [37.5,[1.31,1.50,2.09,2.17,2.31,2.42,2.61,3.15,3.26,3.58,3.92,4.06,4.36,4.45,4.72,4.85,4.98]],
 [35.4,[1.62,1.82,2.93,3.01,3.12,3.19,3.30,3.41,3.55,3.66,3.74,3.88,3.96,4.07,4.21,4.32,4.43,4.54,4.65,4.72,4.85,4.98,5.12,5.38,5.56,5.83,6.16]],
 [33.2,[1.99,2.46,2.82,3.04,3.23,3.41,3.63,3.77,3.85,3.99,4.15,4.28,4.43,4.61,4.76,4.94,5.23,5.38,5.49,5.95,6.16]],
 [31,[1.36,1.61,1.77,1.86,1.99,2.13,2.33,2.42,2.53,2.61,2.72,2.84,2.93,3.08,3.19,3.36,3.48,3.63,3.72,3.85,3.99,4.10,4.21,4.32,4.47,4.54,4.66,4.80,4.94,5.07,5.18,5.27,5.38,5.49,5.61,5.74,5.85,5.99,6.16,6.29]],
 [29.3,[1.95,2.20,2.39,2.53,2.68,2.86,3.01,3.15,3.30,3.45,3.59,3.74,3.88,4.03,4.18,4.32,4.50,4.65,4.83,4.98,5.12,5.27,5.45,5.60,5.78,5.96,6.11,6.33]],
 [27.5,[1.73,2.09,2.31,2.50,2.68,2.90,3.12,3.26,3.48,3.62,3.75,3.92,3.99,4.14,4.28,4.43,4.58,4.72,4.94,5.16,5.31,5.60,5.82,6.04,6.29]],
 [26.1,[1.73,2.09,3.08,3.41,3.75,4.69]],[23.2,[3.23,3.48,3.70]]];
const ptsRSmaxHigh = [[.90,[.055]],[.86,[.09]],[.85,[.057,.232,.351]],[.82,[.44]],[.80,[.007,.059,.249,.374,.50]],[.762,[.099]],[.75,[.064,.265,.40]],[.71,[.098]],[.70,[.069,.286]],[.66,[.096]],[.65,[.075,.152]]];
const ptsRSmaxLow = [[.951,[.262]],[.90,[.098,.132,.199]],[.88,[.339]],[.87,[.111]],[.85,[.098,.116,.199,.292]],[.841,[.354]],[.82,[.145]],[.811,[.135]],[.80,[.021,.098,.123,.199,.31]],[.78,[.126]],[.775,[.128]],[.77,[.387,.063]],[.76,[.063]],[.753,[.06]],[.75,[.034,.098,.123,.137,.199,.333]],[.741,[.013]],[.73,[.025]],[.72,[.137]],[.70,[.126,.137,.199]],[.69,[.114]],[.691,[.015]],[.679,[.027]],[.669,[.132]],[.659,[.12]],[.649,[.122]],[.639,[.126,.028]],[.62,[.127]]];
const ptsFhzSmaxHigh = [[.90,[5]],[.86,[5]],[.85,[1,4,8.4]],[.80,[2,5,8.4,9.6]],[.75,[8.4]],[.71,[5]],[.70,[1,8.4]],[.66,[5]],[.65,[8.4]]];
const ptsFhzSmaxLow = [[.95,[1]],[.90,[1,2,10]],[.88,[5]],[.87,[10]],[.85,[2,5,10]],[.84,[5]],[.82,[10]],[.81,[10]],[.80,[1,10]],[.78,[10]],[.775,[10]],[.77,[5]],[.76,[2,10]],[.75,[1,5,10]],[.73,[5]],[.72,[10]],[.70,[5,10]],[.69,[10]],[.68,[5,10]],[.67,[10]],[.66,[10]],[.65,[10]],[.64,[5,10]],[.62,[10]]];
const ptsLogSmaxHigh = [
 [.951,[1.62,1.77,1.68]],
 [.90,[2.68,2.72,2.79,2.85,2.90,2.97,3.08,3.25,3.35,3.54]],
 [.86,[2.57,2.75]],
 [.85,[1.35,1.40,1.91,2.02,2.09,2.17,2.24,2.33,2.42,2.53,2.60,2.68,2.78,2.90,3.01,3.10,3.23,3.37,3.46,3.63,3.75,3.92,4.14,4.37,5.21]],
 [.82,[1.80,1.93,2.06,2.18,2.28,2.39,2.46,2.53,2.60,2.68,2.75,2.82,2.90,2.97,3.06,3.15,3.22,3.30,3.38,3.48,3.55,3.63,3.70,3.77,3.86,3.98,4.07,4.14,4.39,4.65,4.72,4.80,4.87,4.94,5.05,5.18,5.60,5.99]],
 [.80,[1.06,1.16,1.69,1.80,1.91,2.06,2.15,2.28,2.40,2.53,2.68,2.75,2.82,2.97,3.10,3.23,3.35,3.48,3.63,3.70,3.85,3.98,4.18,4.30,4.47,4.61,4.85,5.09,5.27,5.45,5.71,5.89,6.07,6.22]],
 [.76,[3.45,3.85]],[.75,[3.55,3.63,5.93]],[.71,[3.99,4.50]],[.70,[3.70,4.54]],[.66,[4.08,4.78,5.27]],[.65,[4.65,4.78]]];
const ptsLogSmaxLow = [
 [.951,[1.99,2.09]],
 [.90,[1.00,1.35,1.62,1.72,1.80,1.90,1.99,2.17,2.24,2.31,2.42,2.50]],
 [.88,[2.82,3.04,3.23,3.35,3.48,4.14,4.69,4.96]],[.87,[2.31]],
 [.85,[1.69,1.80,2.06,2.24,2.42,3.04,3.48,3.77,4.03,4.14,4.21]],
 [.84,[3.04,3.30,3.77]],[.82,[2.09]],[.81,[2.24]],
 [.80,[1.31,2.13,2.39,2.53,3.19,3.55,3.92,4.83,5.01]],
 [.777,[4.23,4.47,4.07,4.18]],
 [.77,[3.64,4.28,4.98,5.12,5.27,5.49,6.29]],
 [.75,[2.61,2.90,3.00,3.12,3.41,3.60,3.81,3.99,4.10,4.21,4.32,4.43,4.58,4.72,4.85,4.98,5.18,5.38,5.49,5.60,5.78,6.05,6.16,6.29]],
 [.73,[3.74,4.07,4.65,4.83,5.38,5.49]],[.72,[3.59]],
 [.70,[2.46,2.61,3.41,4.10,4.28,4.43,4.83,5.09,5.34,5.60,5.82,5.95,6.18,6.29]],
 [.69,[4.32,5.34,4.40]],[.68,[4.54,5.67,5.93,6.29]],[.67,[5.85]],[.66,[5.80]],[.65,[4.96]],[.64,[4.69,5.56,6.02,6.29]],[.62,[5.34]]];
const ptsFhzRHigh = [[.50,[8.4]],[.438,[10]],[.40,[8.4]],[.373,[8.4]],[.349,[1,4]],[.30,[4]],[.284,[8.4]],[.263,[8.4]],[.25,[8.4]],[.232,[8.4]],[.152,[8.4]],[.135,[8.4]],[.118,[8.4]],[.074,[8.4]],[.07,[5]],[.061,[1,2,8.4,9.6]],[.05,[5]]];
const ptsFhzRLow = [[.389,[5]],[.358,[5]],[.339,[5]],[.332,[1]],[.313,[1]],[.295,[1]],[.278,[1]],[.261,[1]],[.20,[1,2,5]],[.14,[10]],[.133,[1]],[.129,[10]],[.118,[1,5]],[.112,[10]],[.106,[1]],[.10,[5]],[.095,[10]],[.078,[10]],[.06,[10]],[.034,[1]],[.032,[5]],[.015,[5]]];
const ptsLogRHigh = [
 [.50,[4.14]],
 [.44,[1.80,1.86,1.93,1.98,2.02,2.08,2.13,2.18,2.24,2.30,2.35,2.42,2.53,2.60,2.68,2.75,2.82,2.90,2.97,3.04,3.12,3.19,3.26,3.34,3.41,3.48,3.55,3.63,3.70,3.77,3.85,3.92,3.99,4.07,4.14,4.25,4.37,4.69,4.75,4.80,4.87,4.94,5.05,5.18,5.60,5.99]],
 [.40,[5.93]],[.373,[3.34]],
 [.349,[1.35,1.91,2.02,2.09,2.20,2.42,2.53,2.68,2.80,2.90,3.04,3.19,3.30,3.37,3.48,3.61,3.85,3.97,5.22]],
 [.33,[3.52]],
 [.30,[1.35,1.50,1.91,2.06,2.20,2.39,2.53,2.68,2.90,3.02,3.19,3.37,3.59,3.92,4.10,4.34,5.22]],
 [.287,[4.53]],[.263,[1.62,1.77,3.98]],[.25,[3.34]],[.232,[2.52]],[.15,[3.66]],[.16,[4.78]],[.124,[2.70]],
 [.061,[1.06,1.16,1.69,1.80,1.89,2.06,2.42,2.53,2.68,2.82,2.90,2.97,3.08,3.15,3.25,3.34,3.48,3.58,3.66,3.75,3.85,4.03,4.20,4.28,4.38,4.47,4.61,4.70,4.80,5.09,5.27,5.45,5.64,5.85,5.95,6.07,6.22]],
 [.015,[2.86,3.52]]];
const ptsLogRLow = [
 [.389,[4.98,5.12,5.49,6.29]],[.358,[3.04,3.77]],[.339,[2.82,3.04,4.14,4.65,4.94]],[.33,[3.98,4.72]],[.313,[3.37,3.75]],[.295,[3.12]],[.263,[1.99,2.09]],
 [.20,[1.61,2.33,3.08,3.36,3.77,3.92,4.36,4.47,4.66,5.09,5.61]],
 [.147,[2.09,2.46,2.64,3.41,4.10,4.32,4.83,5.38,5.67,5.93,6.17]],
 [.133,[1.00]],[.124,[1.31]],
 [.129,[1.99,2.10,2.20,2.30,2.39,2.50,2.90,3.15,3.37,3.52,3.63,3.74,3.85,3.99,4.10,4.21,4.47,4.60,4.98,5.12,5.34,5.60,5.72,5.85,6.07]],
 [.112,[1.58,1.77,2.09,2.17,2.28,2.36,2.46,2.57,2.68,2.80,2.93,3.06,3.19,3.35,3.48,3.65,3.81,3.94,4.07,4.28,4.43,4.56,4.69,4.85,5.16,5.30,5.45,5.62,5.78,5.90,6.04]],
 [.098,[1.35,1.62,1.78,1.95,2.06,2.17,2.28,2.39,2.50,2.61,2.72,2.82,2.93,3.04,3.15,3.26,3.42,3.59,3.74,3.92,4.14,4.43,4.60,4.80,4.98,5.10,5.23,5.40,5.60,5.85,6.04,6.29]],
 [.061,[2.13]],
 [.026,[3.01,3.23,3.66,3.80,3.88,3.99,4.07,4.20,4.32,4.61,4.70,4.83,5.38,5.50,5.64,5.90,6.00,6.29]],
 [.015,[3.81,3.99,4.10]]];
const ptsLogFhzHigh = [
 [9.65,[3.92,3.98]],
 [8.38,[2.52,2.69,2.99,3.34,3.50,3.59,3.70,3.98,4.15,4.53,4.65,4.78,5.93]],
 [4.97,[1.86,2.08,2.68,4.87,4.82]],
 [3.99,[1.35,2.13,2.22,2.28,2.57,2.82,2.90,2.97,3.08,3.19,3.30,3.39,3.50,3.61,3.85,3.92,3.98,4.03,4.12,4.34,5.22]],
 [1.97,[1.06,1.16,1.69,1.80,1.93,2.06,2.46,2.57,2.68,2.86,3.04,3.20,3.34,3.44,3.55,3.65,3.98,4.03,4.22,4.43,4.51,4.61,4.80,5.09,5.27,5.45,5.62,5.71,5.80,5.88,6.04,6.20]],
 [.96,[1.35,1.50,1.60,1.73,2.20,2.35,2.46,2.58,2.68,2.80,2.97,3.08,3.19,3.54,4.39,4.60,5.09]]];
const ptsLogFhzLow = [
 [10,[1.00,1.31,1.50,1.58,1.70,1.80,1.90,1.99,2.08,2.17,2.24,2.31,2.42,2.50,2.61,2.80,2.93,3.00,3.08,3.15,3.23,3.30,3.37,3.48,3.59,3.72,3.85,3.92,3.99,4.07,4.21,4.32,4.47,4.55,4.62,4.72,4.85,4.90,4.98,5.15,5.34,5.50,5.64,5.74,5.85,5.98,6.18]],
 [4.97,[1.62,1.69,2.24,2.39,2.90,3.02,3.15,3.25,3.34,3.47,3.59,3.81,3.92,4.21,4.30,4.39,4.55,4.69,5.09,5.20,5.27,5.38,5.60,5.72,5.82,5.92,6.04,6.15,6.29]],
 [1.97,[1.62,2.31,2.39,3.04,3.69,3.77]],
 [.96,[1.55,1.99,3.37,3.75,3.99,4.39,4.72,4.94,4.80]]];

// panel geometry in fractions of the page
const colDomains = [[155, 655], [726, 1224], [1295, 1794], [1864, 2362], [2433, 2934]].map(d => d.map(v => v / 3279));
const rowDomains = [[30, 542], [598, 1110], [1161, 1675], [1730, 2244], [2295, 2812]].map(d => d.map(v => 1 - v / 2948).reverse());

const highMarker = '#10bf9b';
const lowMarker = '#ff8a60';
const highLine = '#3fb89c';
const lowLine = '#ff9068';
const highFill = 'rgba(30,185,150,0.42)';
const lowFill = 'rgba(255,125,75,0.40)';
const axisColor = '#3d3d3d';
const fontFamily = '"Liberation Sans", Arial, sans-serif';

const layout = {
  width: 3279, height: 2948,
  margin: {l: 0, r: 0, t: 0, b: 0},
  paper_bgcolor: '#fff', plot_bgcolor: '#fff',
  barmode: 'overlay',
  showlegend: true,
  legend: {x: 0.9018, y: 0.5132, xanchor: 'left', yanchor: 'top', itemwidth: 84, traceorder: 'normal',
    font: {family: '"Open Sans", sans-serif', size: 42, color: '#222'}, bgcolor: 'rgba(0,0,0,0)'},
  annotations: [{text: 'Compressive<br>strength class', xref: 'paper', yref: 'paper', x: 3116 / 3279, y: 1 - 1362 / 2948,
    xanchor: 'center', yanchor: 'middle', showarrow: false, align: 'center',
    font: {family: '"Open Sans", sans-serif', size: 47, color: '#222'}}]
};

const traces = [];
let legendDone = {};

const unpack = flat => {
  let xs = [], ys = [];
  for (let i = 0; i < flat.length; i += 2) { xs.push(flat[i]); ys.push(flat[i + 1]); }
  return [xs, ys];
};

const addRings = (rings, xa, ya, color, name) => {
  rings.forEach(ring => {
    let [xs, ys] = unpack(ring);
    xs.push(xs[0]); ys.push(ys[0]);
    traces.push({x: xs, y: ys, xaxis: xa, yaxis: ya, type: 'scatter', mode: 'lines', name: name,
      showlegend: !legendDone[name], hoverinfo: 'skip',
      line: {color: color, width: 4.5, shape: 'spline', smoothing: 1}});
    legendDone[name] = true;
  });
};

const addPoints = (rows, xa, ya, color) => {
  let xs = [], ys = [];
  rows.forEach(row => row[1].forEach(v => { xs.push(v); ys.push(row[0]); }));
  traces.push({x: xs, y: ys, xaxis: xa, yaxis: ya, type: 'scatter', mode: 'markers', showlegend: false,
    marker: {color: color, size: 21, line: {color: '#fff', width: 1.6}}});
};

const addHist = (edges, heights, xa, ya, fill) => {
  let xs = [], ws = [], hs = [];
  heights.forEach((h, i) => {
    if (h > 0) { xs.push((edges[i] + edges[i + 1]) / 2); ws.push(edges[i + 1] - edges[i]); hs.push(h); }
  });
  traces.push({x: xs, y: hs, width: ws, xaxis: xa, yaxis: ya, type: 'bar', showlegend: false,
    marker: {color: fill, line: {color: '#000', width: 6.5}}});
};

const addDensity = (flat, xa, ya, color) => {
  let [xs, ys] = unpack(flat);
  traces.push({x: xs, y: ys, xaxis: xa, yaxis: ya, type: 'scatter', mode: 'lines', showlegend: false,
    line: {color: color, width: 4.5, shape: 'spline', smoothing: 0.8}});
};

// axes
for (let r = 0; r < 5; r++) {
  for (let c = 0; c < 5; c++) {
    let n = r * 5 + c + 1;
    layout['xaxis' + n] = {
      domain: colDomains[c], range: xRanges[c], anchor: 'y' + n, showgrid: false, zeroline: false,
      showline: true, linecolor: axisColor, linewidth: 4, ticks: 'outside', ticklen: 17, tickwidth: 4, tickcolor: axisColor,
      tickmode: 'array', tickvals: xTickVals[c], ticktext: xTickText[c], showticklabels: r == 4,
      tickfont: {family: fontFamily, size: 34, color: '#4a4a4a'},
      title: r == 4 ? {text: features[c], standoff: 20, font: {family: fontFamily, size: 37, color: '#4a4a4a'}} : undefined
    };
    layout['yaxis' + n] = {
      domain: rowDomains[r], range: yRanges[r], anchor: 'x' + n, showgrid: false, zeroline: false,
      showline: true, linecolor: axisColor, linewidth: 4, ticks: 'outside', ticklen: 17, tickwidth: 4, tickcolor: axisColor,
      tickmode: 'array', tickvals: yTickVals[r], ticktext: yTickText[r], showticklabels: c == 0,
      tickfont: {family: fontFamily, size: 34, color: '#4a4a4a'},
      title: c == 0 ? {text: features[r], standoff: 16, font: {family: fontFamily, size: 37, color: '#4a4a4a'}} : undefined
    };
  }
}

// contours below the diagonal, high class first
const ringPanels = [
  [1, 0, ringsFcSmaxHigh, ringsFcSmaxLow],
  [2, 0, ringsFcRHigh, ringsFcRLow], [2, 1, ringsSmaxRHigh, ringsSmaxRLow],
  [3, 0, ringsFcFhzHigh, ringsFcFhzLow], [3, 1, ringsSmaxFhzHigh, ringsSmaxFhzLow], [3, 2, ringsRFhzHigh, ringsRFhzLow],
  [4, 0, ringsFcLogHigh, ringsFcLogLow], [4, 1, ringsSmaxLogHigh, ringsSmaxLogLow], [4, 2, ringsRLogHigh, ringsRLogLow], [4, 3, ringsFhzLogHigh, ringsFhzLogLow]
];
ringPanels.forEach(p => {
  let n = p[0] * 5 + p[1] + 1;
  addRings(p[2], 'x' + n, 'y' + n, highLine, highName);
  addRings(p[3], 'x' + n, 'y' + n, lowLine, lowName);
});

// points above the diagonal
const pointPanels = [
  [0, 1, ptsSmaxFcHigh, ptsSmaxFcLow], [0, 2, ptsRFcHigh, ptsRFcLow], [0, 3, ptsFhzFcHigh, ptsFhzFcLow], [0, 4, ptsLogFcHigh, ptsLogFcLow],
  [1, 2, ptsRSmaxHigh, ptsRSmaxLow], [1, 3, ptsFhzSmaxHigh, ptsFhzSmaxLow], [1, 4, ptsLogSmaxHigh, ptsLogSmaxLow],
  [2, 3, ptsFhzRHigh, ptsFhzRLow], [2, 4, ptsLogRHigh, ptsLogRLow],
  [3, 4, ptsLogFhzHigh, ptsLogFhzLow]
];
pointPanels.forEach(p => {
  let n = p[0] * 5 + p[1] + 1;
  addPoints(p[2], 'x' + n, 'y' + n, highMarker);
  addPoints(p[3], 'x' + n, 'y' + n, lowMarker);
});

// diagonal: bars and curves live on a hidden axis running 0..1,
// the visible axes of the panel get a blank trace so they are still drawn
const diagPanels = [
  [histFcEdges, histFcHigh, histFcLow, densFcHigh, densFcLow],
  [histSmaxEdges, histSmaxHigh, histSmaxLow, densSmaxHigh, densSmaxLow],
  [histREdges, histRHigh, histRLow, densRHigh, densRLow],
  [histFhzEdges, histFhzHigh, histFhzLow, densFhzHigh, densFhzLow],
  [histLogEdges, histLogHigh, histLogLow, densLogHigh, densLogLow]
];
diagPanels.forEach((p, i) => {
  let n = i * 5 + i + 1, id = 26 + i;
  traces.push({x: [null], y: [null], xaxis: 'x' + n, yaxis: 'y' + n, type: 'scatter', mode: 'lines', showlegend: false});
  layout['yaxis' + id] = {domain: rowDomains[i], range: [0, 1], overlaying: 'y' + n, anchor: 'x' + n, visible: false};
  addHist(p[0], p[2], 'x' + n, 'y' + id, lowFill);
  addHist(p[0], p[1], 'x' + n, 'y' + id, highFill);
  addDensity(p[3], 'x' + n, 'y' + id, highLine);
  addDensity(p[4], 'x' + n, 'y' + id, lowLine);
});

Plotly.newPlot('pairplot', traces, layout, {displayModeBar: false, staticPlot: true});
</script>
</body>
</html>
